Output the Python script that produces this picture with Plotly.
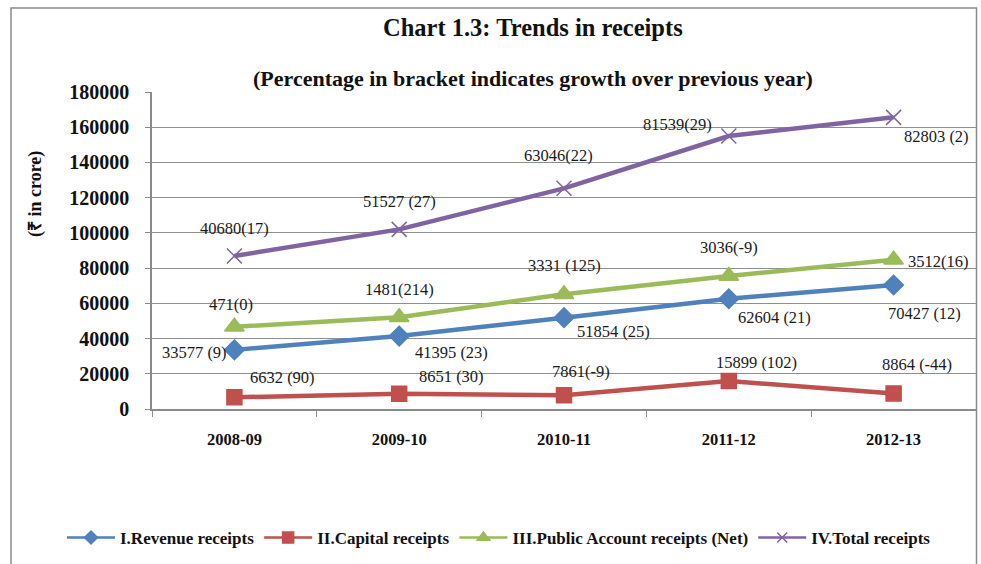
import plotly.graph_objects as go

years = ["2008-09", "2009-10", "2010-11", "2011-12", "2012-13"]

# plotted values
revenue = [33577, 41395, 51854, 62604, 70427]
capital = [6632, 8651, 7861, 15899, 8864]
public_plot = [46700, 52100, 65200, 75500, 84800]
total_plot = [86900, 102000, 125300, 155000, 165600]

# data label texts
revenue_lbl = ["33577 (9)", "41395 (23)", "51854 (25)", "62604 (21)", "70427 (12)"]
capital_lbl = ["6632 (90)", "8651 (30)", "7861(-9)", "15899 (102)", "8864 (-44)"]
public_lbl = ["471(0)", "1481(214)", "3331 (125)", "3036(-9)", "3512(16)"]
total_lbl = ["40680(17)", "51527 (27)", "63046(22)", "81539(29)", "82803 (2)"]

names = ["I.Revenue receipts", "II.Capital receipts",
         "III.Public Account receipts (Net)", "IV.Total receipts"]

# label offsets in pixels (xshift, yshift)
revenue_off = [(-40, -3), (52, -16), (49, -14), (46, -19), (31, -29)]
capital_off = [(48, 20), (52, 17), (17, 24), (28, 19), (23, 29)]
public_off = [(-3, 22), (0, 28), (0, 29), (0, 29), (45, -2)]
total_off = [(0, 27), (0, 28), (-6, 33), (-51, 12), (43, -19)]

FONT = "Liberation Serif, Times New Roman, serif"
colors = ["#4F81BD", "#C0504D", "#9BBB59", "#8064A2"]
symbols = ["diamond", "square", "triangle-up", "x-thin-open"]
sizes = [15, 15, 17, 15]
leg_sizes = [10, 11, 11, 10]
series = [revenue, capital, public_plot, total_plot]

W, H = 981, 564
px = lambda p: p / W
py = lambda p: 1 - p / H

fig = go.Figure()
for vals, nm, c, s, sz in zip(series, names, colors, symbols, sizes):
    fig.add_trace(go.Scatter(x=years, y=vals, name=nm, mode="lines+markers", showlegend=False,
                             line=dict(color=c, width=4.5),
                             marker=dict(symbol=s, size=sz, color=c, line=dict(color=c, width=1.5))))
# legend entries (smaller symbols, thinner lines)
for nm, c, s, sz in zip(names, colors, symbols, leg_sizes):
    fig.add_trace(go.Scatter(x=[None], y=[None], name=nm, mode="lines+markers", showlegend=True,
                             line=dict(color=c, width=2.5),
                             marker=dict(symbol=s, size=sz, color=c, line=dict(color=c, width=1.5))))

annotations = []
for vals, lbls, offs in [(revenue, revenue_lbl, revenue_off),
                         (capital, capital_lbl, capital_off),
                         (public_plot, public_lbl, public_off),
                         (total_plot, total_lbl, total_off)]:
    for x, v, t, (dx, dy) in zip(years, vals, lbls, offs):
        annotations.append(dict(x=x, y=v, text=t, showarrow=False, xshift=dx, yshift=dy,
                                xanchor="center", yanchor="middle",
                                font=dict(family=FONT, size=16.5, color="#1a1a1a")))

annotations.append(dict(xref="paper", yref="paper", x=px(533), y=py(28),
                        xanchor="center", yanchor="middle",
                        text="Chart 1.3: Trends in receipts", showarrow=False,
                        font=dict(family=FONT, size=24.5, color="#111", weight="bold")))
annotations.append(dict(xref="paper", yref="paper", x=px(533), y=py(78),
                        xanchor="center", yanchor="middle",
                        text="(Percentage in bracket indicates growth over previous year)",
                        showarrow=False,
                        font=dict(family=FONT, size=22, color="#111", weight="bold")))
annotations.append(dict(xref="paper", yref="paper", x=px(35), y=py(194),
                        xanchor="center", yanchor="middle",
                        text="(₹ in crore)", showarrow=False, textangle=-90,
                        font=dict(family=FONT, size=18, color="#111", weight="bold")))

fig.update_layout(
    width=W, height=H,
    margin=dict(l=0, r=0, t=0, b=0, autoexpand=False),
    paper_bgcolor="white", plot_bgcolor="white",
    showlegend=True,
    legend=dict(orientation="h", x=px(499), xanchor="center", y=py(538),
                yanchor="middle", font=dict(family=FONT, size=17, color="#111", weight="bold"),
                itemwidth=48, tracegroupgap=0, bgcolor="rgba(0,0,0,0)"),
    annotations=annotations,
    shapes=[dict(type="rect", xref="paper", yref="paper",
                 x0=px(11), x1=px(976.5), y0=-0.05, y1=py(8),
                 line=dict(color="#8a8a8a", width=1.5), fillcolor="rgba(0,0,0,0)", layer="below")],
)
fig.update_xaxes(type="category", domain=[px(152), px(976)], showgrid=False, showline=True,
                 linecolor="#8a8a8a", linewidth=1.5,
                 ticks="outside", tickson="boundaries", ticklen=6, tickcolor="#8a8a8a",
                 tickfont=dict(family=FONT, size=16.5, color="#111", weight="bold"),
                 ticklabelstandoff=14, range=[-0.5, 4.5], automargin=False)
fig.update_yaxes(domain=[py(409), py(92)], range=[0, 180000], dtick=20000, showgrid=True,
                 gridcolor="#8f8f8f", gridwidth=1,
                 showline=True, linecolor="#8a8a8a", linewidth=1.5, ticks="outside", ticklen=5,
                 tickcolor="#8a8a8a", zeroline=False,
                 tickfont=dict(family=FONT, size=20, color="#111", weight="bold"),
                 ticklabelstandoff=12, tickformat="d", automargin=False)

fig.write_html("out.html")
